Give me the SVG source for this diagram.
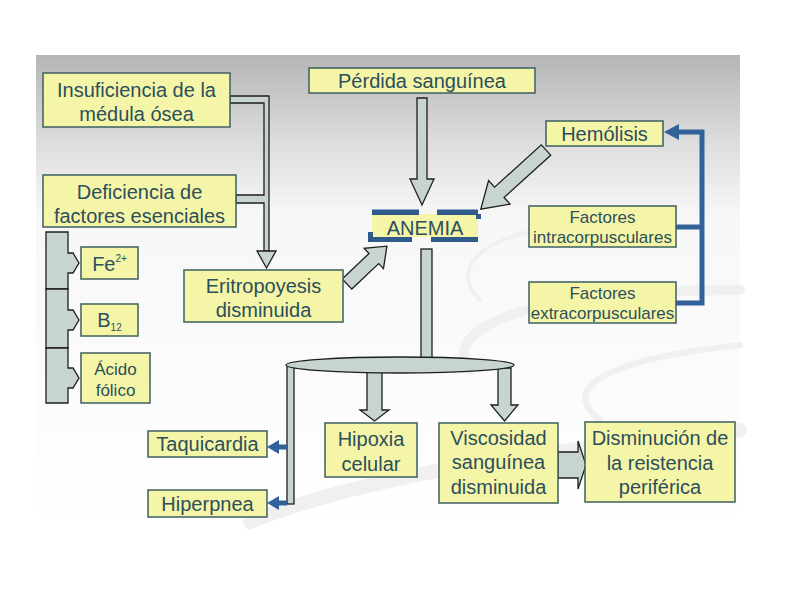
<svg xmlns="http://www.w3.org/2000/svg" width="794" height="595" viewBox="0 0 794 595">
<defs>
<linearGradient id="bg" x1="0" y1="55" x2="0" y2="525" gradientUnits="userSpaceOnUse">
<stop offset="0" stop-color="#b5b5b5"/>
<stop offset="0.18" stop-color="#dcdcdc"/>
<stop offset="0.34" stop-color="#f7f7f7"/>
<stop offset="1" stop-color="#ffffff"/>
</linearGradient>
<style>
.box{fill:#f5f5a8;stroke:#3d5f60;stroke-width:1.5}
.t{font-family:"Liberation Sans",Arial,sans-serif;fill:#2c4f5c;text-anchor:middle;font-size:20px}
.s{font-size:17px}
.blk{fill:#c8d4d0;stroke:#1e1e1e;stroke-width:1.3;stroke-linejoin:miter}
.blue{fill:none;stroke:#33629a;stroke-width:5}
.bh{fill:#33629a}
.bar{fill:#2f5b8c}
.swoosh{fill:none;stroke:#f0f0f0;stroke-linecap:round}
</style>
</defs>
<rect width="794" height="595" fill="#ffffff"/>
<rect x="36" y="55" width="704" height="470" fill="url(#bg)"/>
<g id="swooshes">
<path class="swoosh" d="M470 370 C 440 330, 520 290, 740 290" stroke-width="10"/>
<path class="swoosh" d="M480 300 C 450 270, 480 240, 540 230" stroke-width="4"/>
<path class="swoosh" d="M250 522 C 380 470, 560 450, 740 430" stroke-width="14"/>
<path class="swoosh" d="M600 420 C 560 390, 600 360, 740 345" stroke-width="6"/>
</g>

<g id="connectors">
<polygon class="blk" points="230,96 269,96 269,251 264,251 264,203 236,203 236,195 264,195 264,103 230,103"/>
<polygon class="blk" points="257,251 276,251 266.5,268"/>
<polygon class="blk" points="417,98 427,98 427,179 434,179 422,205 410,179 417,179"/>
<polygon class="blk" transform="translate(546,150) rotate(137.8)" points="0,-7 63,-7 63,-16 88,0 63,16 63,7 0,7"/>
<polygon class="blk" transform="translate(347,284) rotate(-43.5)" points="0,-7 37,-7 37,-14 55,0 37,14 37,7 0,7"/>
<rect class="blk" x="421" y="249" width="11" height="112"/>
<rect class="blk" x="287" y="366" width="7" height="138"/>
<polygon class="blk" points="367,368 382,368 382,410 389,410 374.5,421 360,410 367,410"/>
<polygon class="blk" points="498,368 511,368 511,405 518,405 504.5,421 491,405 498,405"/>
<ellipse class="blk" cx="400" cy="365" rx="114" ry="8"/>
<polygon class="blk" points="558,452 578,452 578,441 586,465 578,489 578,478 558,478"/>
<path class="blue" d="M287 447 H276 M287 503 H276"/>
<polygon class="bh" points="267,447 279,440 279,454"/>
<polygon class="bh" points="267,503 279,496 279,510"/>
<path class="blue" d="M676 227 H702 M676 303 H702 V132 H676" stroke-linejoin="miter"/>
<polygon class="bh" points="664,132 679,124 679,140"/>
<g id="nutrient-bar">
<polygon class="blk" points="46,232 68,232 68,253 73,253 79,263 73,273 68,273 68,289 46,289"/>
<polygon class="blk" points="46,289 68,289 68,310 73,310 79,320 73,330 68,330 68,348 46,348"/>
<polygon class="blk" points="46,348 68,348 68,368 73,368 79,378 73,388 68,388 68,403 46,403"/>
</g>
</g>

<g id="insuficiencia">
<rect class="box" x="43" y="73" width="187" height="54"/>
<text class="t" x="136.5" y="97" font-size="21">Insuficiencia de la</text>
<text class="t" x="136.5" y="121" font-size="21">médula ósea</text>
</g>
<g id="deficiencia">
<rect class="box" x="43" y="175" width="193" height="52"/>
<text class="t" x="139.5" y="199" font-size="21">Deficiencia de</text>
<text class="t" x="139.5" y="223" font-size="21">factores esenciales</text>
</g>
<g id="perdida">
<rect class="box" x="309" y="68" width="226" height="25"/>
<text class="t" x="422" y="88">Pérdida sanguínea</text>
</g>
<g id="hemolisis">
<rect class="box" x="546" y="121" width="117" height="25"/>
<text class="t" x="604.5" y="141">Hemólisis</text>
</g>
<g id="intracorpusculares">
<rect class="box" x="529" y="206" width="147" height="41"/>
<text class="t s" x="602.5" y="223">Factores</text>
<text class="t s" x="602.5" y="243">intracorpusculares</text>
</g>
<g id="extracorpusculares">
<rect class="box" x="529" y="282" width="147" height="41"/>
<text class="t s" x="602.5" y="299">Factores</text>
<text class="t s" x="602.5" y="319">extracorpusculares</text>
</g>
<g id="anemia">
<rect x="372" y="214" width="106" height="23" fill="#f5f5a8"/>
<rect x="372" y="209" width="47" height="1.5" fill="#8eaacb"/>
<rect x="437" y="209" width="41" height="1.5" fill="#8eaacb"/>
<rect class="bar" x="372" y="210" width="47" height="5"/>
<rect class="bar" x="437" y="210" width="41" height="5"/>
<rect class="bar" x="476" y="214" width="5" height="5"/>
<rect class="bar" x="368" y="237" width="44" height="5"/>
<rect class="bar" x="368" y="232" width="5" height="6"/>
<rect class="bar" x="431" y="237" width="47" height="5"/>
<text class="t" x="425" y="235" font-size="21">ANEMIA</text>
</g>
<g id="eritropoyesis">
<rect class="box" x="184" y="270" width="159" height="52"/>
<text class="t" x="263.5" y="293" font-size="21">Eritropoyesis</text>
<text class="t" x="263.5" y="317" font-size="21">disminuida</text>
</g>
<g id="fe">
<rect class="box" x="81" y="247" width="57" height="32"/>
<text class="t" x="109.5" y="271" font-size="19">Fe<tspan font-size="10" dy="-9">2+</tspan></text>
</g>
<g id="b12">
<rect class="box" x="81" y="304" width="57" height="32"/>
<text class="t" x="109.5" y="327" font-size="19">B<tspan font-size="10" dy="4">12</tspan></text>
</g>
<g id="acido-folico">
<rect class="box" x="81" y="353" width="69" height="50"/>
<text class="t s" x="115.5" y="375">Ácido</text>
<text class="t s" x="115.5" y="396">fólico</text>
</g>
<g id="taquicardia">
<rect class="box" x="148" y="431" width="119" height="26"/>
<text class="t" x="207.5" y="451" font-size="21">Taquicardia</text>
</g>
<g id="hiperpnea">
<rect class="box" x="148" y="490" width="119" height="27"/>
<text class="t" x="207.5" y="511" font-size="21">Hiperpnea</text>
</g>
<g id="hipoxia">
<rect class="box" x="325" y="423" width="92" height="54"/>
<text class="t" x="371" y="446" font-size="21">Hipoxia</text>
<text class="t" x="371" y="471" font-size="21">celular</text>
</g>
<g id="viscosidad">
<rect class="box" x="439" y="423" width="119" height="80"/>
<text class="t" x="498.5" y="445" font-size="21">Viscosidad</text>
<text class="t" x="498.5" y="469" font-size="21">sanguínea</text>
<text class="t" x="498.5" y="494" font-size="21">disminuida</text>
</g>
<g id="disminucion">
<rect class="box" x="585" y="422" width="150" height="80"/>
<text class="t" x="660" y="445" font-size="21">Disminución de</text>
<text class="t" x="660" y="470" font-size="21">la reistencia</text>
<text class="t" x="660" y="494" font-size="21">periférica</text>
</g>
</svg>
